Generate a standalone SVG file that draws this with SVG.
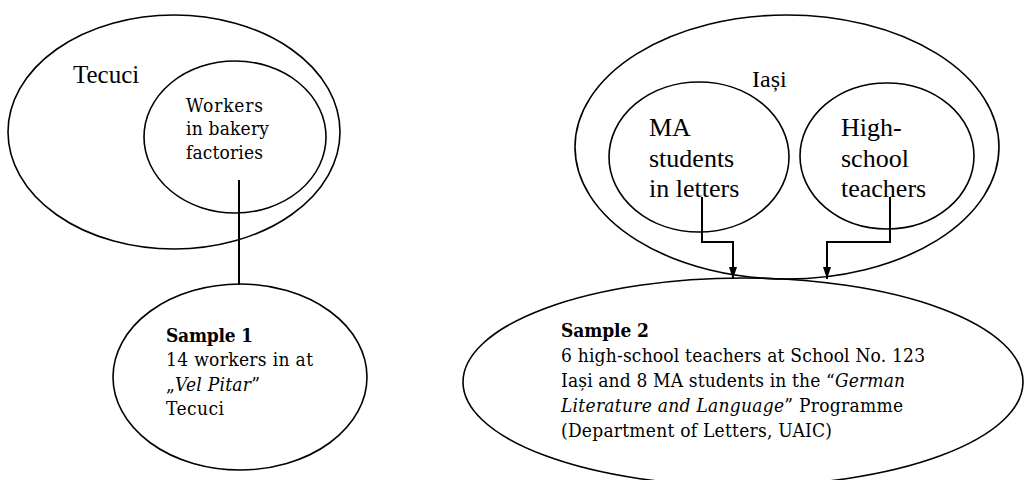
<svg xmlns="http://www.w3.org/2000/svg" width="1025" height="480" viewBox="0 0 1025 480">
<style>
.shape{fill:none;stroke:#000;stroke-width:1.6}
.conn{fill:none;stroke:#000;stroke-width:2}
.tnr{font-family:"Liberation Serif","Times New Roman",serif;fill:#000}
.cam{font-family:"DejaVu Serif Condensed","DejaVu Serif","Liberation Serif",serif;font-size:19px;fill:#000}
.b{font-weight:bold}
.i{font-style:italic}
</style>
<defs>
<marker id="arr" markerUnits="userSpaceOnUse" markerWidth="12" markerHeight="8" refX="12" refY="4" orient="auto">
<path d="M0,0 L12,4 L0,8 z" fill="#000"/>
</marker>
</defs>
<rect width="1025" height="480" fill="#fff"/>
<g id="tecuci">
<ellipse class="shape" cx="174" cy="132" rx="166" ry="117"/>
<text class="tnr" x="73" y="83" font-size="25">Tecuci</text>
</g>
<g id="workers">
<ellipse class="shape" cx="235" cy="137" rx="91" ry="76"/>
<text class="cam" x="186" y="112" textLength="77">Workers</text>
<text class="cam" x="186" y="135" textLength="83">in bakery</text>
<text class="cam" x="186" y="159" textLength="77">factories</text>
</g>
<g id="sample1">
<ellipse class="shape" cx="240" cy="377" rx="127" ry="93"/>
<text class="cam b" x="166" y="342" textLength="87">Sample 1</text>
<text class="cam" x="166" y="366" textLength="147">14 workers in at</text>
<text class="cam" x="166" y="391" textLength="94">„<tspan class="i">Vel Pitar</tspan>”</text>
<text class="cam" x="166" y="415" textLength="58">Tecuci</text>
</g>
<g id="iasi">
<ellipse class="shape" cx="787" cy="147" rx="212" ry="132"/>
<text class="tnr" x="752" y="87" font-size="24">Iași</text>
</g>
<g id="ma">
<ellipse class="shape" cx="699" cy="157" rx="90" ry="75"/>
<text class="tnr" x="649" y="136" font-size="26">MA</text>
<text class="tnr" x="649" y="167" font-size="26">students</text>
<text class="tnr" x="649" y="197" font-size="26">in letters</text>
</g>
<g id="hs">
<ellipse class="shape" cx="887" cy="156" rx="87" ry="73"/>
<text class="tnr" x="841" y="136" font-size="26">High-</text>
<text class="tnr" x="841" y="167" font-size="26">school</text>
<text class="tnr" x="841" y="197" font-size="26">teachers</text>
</g>
<g id="sample2">
<ellipse class="shape" cx="743" cy="382" rx="280" ry="104"/>
<text class="cam b" x="561" y="337" textLength="88">Sample 2</text>
<text class="cam" x="561" y="362" textLength="364">6 high-school teachers at School No. 123</text>
<text class="cam" x="561" y="387" textLength="344">Iași and 8 MA students in the “<tspan class="i">German</tspan></text>
<text class="cam" x="561" y="412" textLength="342"><tspan class="i">Literature and Language</tspan>” Programme</text>
<text class="cam" x="561" y="437" textLength="271">(Department of Letters, UAIC)</text>
</g>
<g id="connectors">
<line class="conn" x1="239" y1="180" x2="239" y2="285"/>
<polyline class="conn" points="702,197 702,242 733,242 733,279" marker-end="url(#arr)"/>
<polyline class="conn" points="890,197 890,242 827,242 827,279" marker-end="url(#arr)"/>
</g>
</svg>
